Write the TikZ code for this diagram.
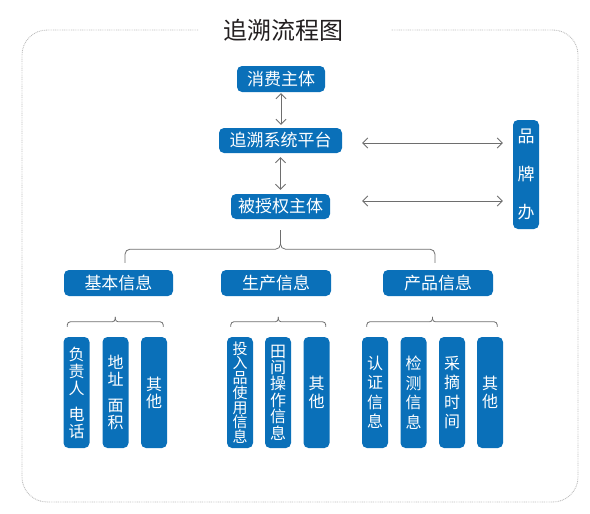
\documentclass[tikz,border=0pt]{standalone}
\usepackage{fontspec}
\setmainfont{Noto Sans CJK SC}
\usetikzlibrary{arrows.meta,calc}
\definecolor{boxblue}{HTML}{0A70B9}
\definecolor{linegray}{HTML}{6E6E6E}
\definecolor{framegray}{HTML}{BDBDBD}
\definecolor{titlecol}{HTML}{231F20}
\begin{document}
\begin{tikzpicture}[x=1pt,y=-1pt,
  box/.style={fill=boxblue,text=white,rounded corners=5pt,inner sep=0pt,font=\fontsize{17}{17}\selectfont},
  leaf/.style={box,minimum width=26pt,minimum height=111pt,align=center,font=\fontsize{16}{17}\selectfont},
  arr/.style={draw=linegray,line width=0.8pt,{Straight Barb[length=5pt,width=10pt]}-{Straight Barb[length=5pt,width=10pt]}},
  brace/.style={draw=linegray,line width=0.8pt},
  framestyle/.style={draw=framegray,line width=0.9pt,dash pattern=on 0.9pt off 0.9pt,rounded corners=25pt},
]
\useasboundingbox (0,0) rectangle (590,514);
\draw[framestyle] (198,30) -- (22,30) -- (22,502) -- (578,502) -- (578,30) -- (391,30);
\node[text=titlecol,font=\fontsize{24}{24}\selectfont,inner sep=0pt] (t) at (283,30) {追溯流程图};

\node[box,minimum width=88pt,minimum height=26pt] (c) at (281,79) {消费主体};
\node[box,minimum width=123pt,minimum height=25pt] (p) at (280.5,140.5) {追溯系统平台};
\node[box,minimum width=99pt,minimum height=25pt] (s) at (280.5,206.5) {被授权主体};
\node[box,minimum width=26pt,minimum height=109pt,align=center,font=\fontsize{17}{38}\selectfont] (b) at (526,174.5) {品\\牌\\办};

\node[box,minimum width=109pt,minimum height=26pt] (g1) at (118.5,283) {基本信息};
\node[box,minimum width=110pt,minimum height=26pt] (g2) at (276,283) {生产信息};
\node[box,minimum width=110pt,minimum height=26pt] (g3) at (438,283) {产品信息};

\node[leaf] (l11) at (76.5,392.5) {负\\责\\人\\[9pt]电\\话};
\node[leaf] (l12) at (115.5,392.5) {地\\址\\[9pt]面\\积};
\node[leaf] (l13) at (154,392.5) {其\\他};
\node[leaf,font=\fontsize{15}{14.7}\selectfont] (l21) at (240,392.5) {投\\入\\品\\使\\用\\信\\息};
\node[leaf,font=\fontsize{16}{16.4}\selectfont] (l22) at (278,392.5) {田\\间\\操\\作\\信\\息};
\node[leaf,font=\fontsize{16}{18}\selectfont] (l23) at (316.5,392.5) {其\\他};
\node[leaf,font=\fontsize{16}{19.5}\selectfont] (l31) at (375,392.5) {认\\证\\信\\息};
\node[leaf,font=\fontsize{16}{19.5}\selectfont] (l32) at (413.5,392.5) {检\\测\\信\\息};
\node[leaf,font=\fontsize{16}{19.5}\selectfont] (l33) at (452,392.5) {采\\摘\\时\\间};
\node[leaf,font=\fontsize{16}{18}\selectfont] (l34) at (490,392.5) {其\\他};

% arrows
\draw[arr] ([yshift=-1pt]c.south) -- ([yshift=3pt]c.south |- p.north);
\draw[arr] ([yshift=-4pt]p.south) -- ([yshift=4pt]p.south |- s.north);
\draw[arr] ($(p.east)+(20,2.5)$) -- ($(b.west |- p.east)+(-10,2.5)$);
\draw[arr] ($(s.east)+(32,-5.5)$) -- ($(b.west |- s.east)+(-10,-5.5)$);

% main brace
\coordinate (mt) at ($(s.south)+(0,11)$);
\coordinate (mm) at ($(s.south)+(0,30)$);
\draw[brace,rounded corners=5pt] ($(g1.north)+(6.5,-7)$) |- (mm) -- (mt);
\draw[brace,rounded corners=5pt] ($(g3.north)+(-3,-7)$) |- (mm) -- (mt);

% small braces
\coordinate (m1) at ($(l11.north west)!0.5!(l13.north east)+(0,-15)$);
\draw[brace,rounded corners=3pt] ($(l11.north west)+(4,-10)$) |- (m1) -- ++(0,-5);
\draw[brace,rounded corners=3pt] ($(l13.north east)+(-4,-10)$) |- (m1) -- ++(0,-5);
\coordinate (m2) at ($(l21.north west)!0.5!(l23.north east)+(0,-15)$);
\draw[brace,rounded corners=3pt] ($(l21.north west)+(4,-10)$) |- (m2) -- ++(0,-5);
\draw[brace,rounded corners=3pt] ($(l23.north east)+(-4,-10)$) |- (m2) -- ++(0,-5);
\coordinate (m3) at ($(l31.north west)!0.5!(l34.north east)+(0,-15)$);
\draw[brace,rounded corners=3pt] ($(l31.north west)+(5,-10)$) |- (m3) -- ++(0,-5);
\draw[brace,rounded corners=3pt] ($(l34.north east)+(-6,-10)$) |- (m3) -- ++(0,-5);
\end{tikzpicture}
\end{document}
